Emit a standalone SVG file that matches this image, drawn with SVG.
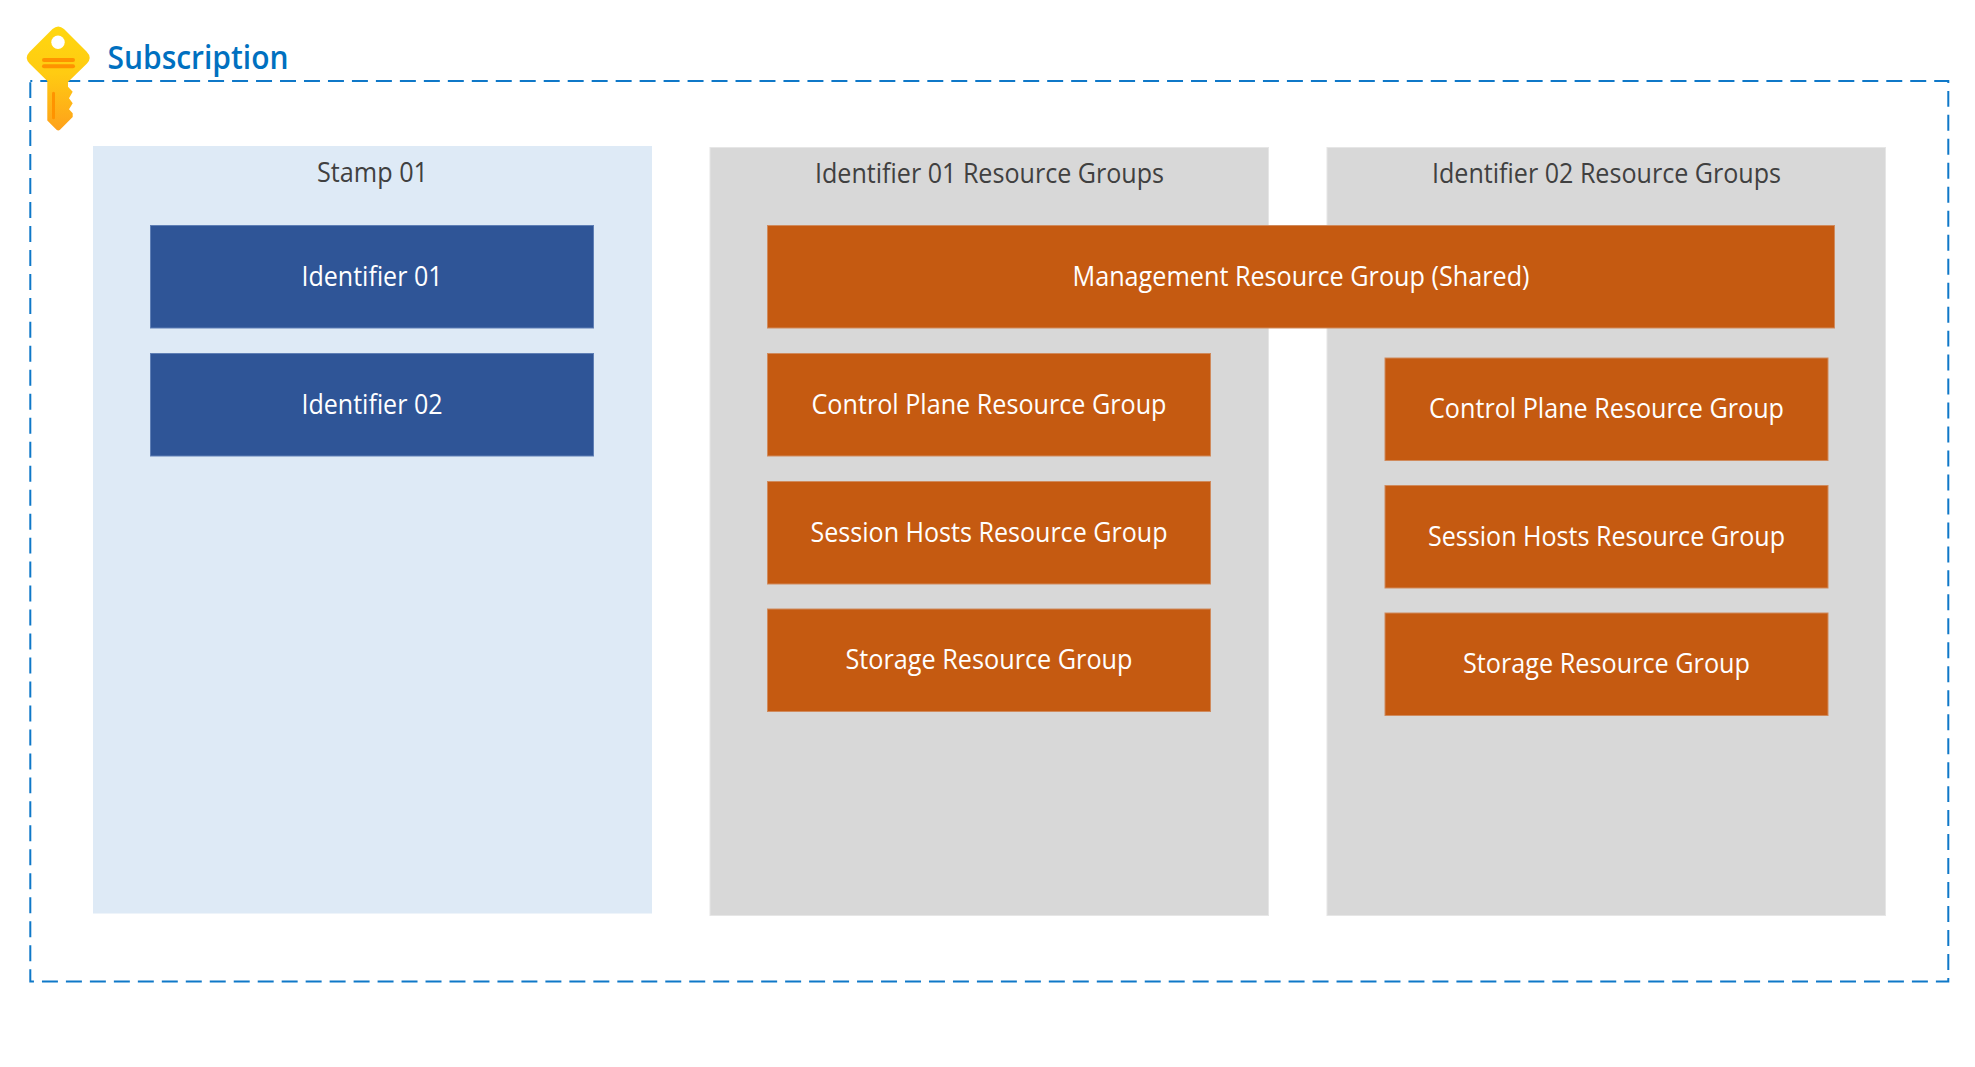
<svg xmlns="http://www.w3.org/2000/svg" width="1975" height="1067" viewBox="0 0 1975 1067">
<style>
text{font-family:"Open Sans","Noto Sans","Liberation Sans",sans-serif;font-size:27px;font-weight:400;text-anchor:middle}
.lb{fill:#404040}.w{fill:#fff}
.o{fill:#c55a11;stroke:#d08a5c;stroke-width:1}
.b{fill:#2f5597;stroke:#5f7fb5;stroke-width:1}
.g{fill:#d8d8d8;stroke:#e6e6e6;stroke-width:1}
</style>
<defs><linearGradient id="kg" x1="0" y1="0" x2="0" y2="1"><stop offset="0" stop-color="#ffd70f"/><stop offset="0.45" stop-color="#ffcb12"/><stop offset="1" stop-color="#fea11b"/></linearGradient></defs>
<rect width="1975" height="1067" fill="#fff"/>
<path id="subscription-frame" d="M30.300 81H1948.300V981.500H30.300Z" fill="none" stroke="#0f78c8" stroke-width="2" stroke-dasharray="15.980 7.994" stroke-dashoffset="14"/>
<g id="key">
<path d="M52.500 29Q58.300 24 64 29L86.500 51.500Q92.500 57.500 87 63.500L68 82V86.700L72.700 91.700L69 98.300L72.700 103.300L69 109.300L72.700 113.300V117L60 129.700Q58.300 131.300 56.500 129.700L47.300 120.500V81L29.500 63.500Q24 57.700 29.500 52Z" fill="url(#kg)"/>
<circle cx="58" cy="42.300" r="6.700" fill="#fff"/>
<rect x="42" y="58" width="33" height="4" rx="2" fill="#ff9300"/>
<rect x="42" y="64.300" width="33" height="4" rx="2" fill="#ff9300"/>
<rect x="52" y="91.700" width="3" height="27.600" rx="1.500" fill="#ff9300"/>
</g>
<text id="subscription-label" x="198" y="69" style="font-size:33px;font-weight:600;fill:#0070c0" textLength="181" lengthAdjust="spacingAndGlyphs">Subscription</text>
<g id="stamp"><rect x="93" y="146" width="559" height="767.500" fill="#deeaf6"/><text class="lb" x="372.500" y="181.500" textLength="111" lengthAdjust="spacingAndGlyphs">Stamp 01</text></g>
<g id="group1"><rect class="g" x="710" y="147.500" width="558.500" height="768"/><text class="lb" x="989.500" y="182.500" textLength="349" lengthAdjust="spacingAndGlyphs">Identifier 01 Resource Groups</text></g>
<g id="group2"><rect class="g" x="1327" y="147.500" width="558.500" height="768"/><text class="lb" x="1606.500" y="182.500" textLength="349" lengthAdjust="spacingAndGlyphs">Identifier 02 Resource Groups</text></g>
<g id="id01"><rect class="b" x="150.500" y="225.500" width="443" height="102.500"/><text class="w" x="372" y="285.500" textLength="141" lengthAdjust="spacingAndGlyphs">Identifier 01</text></g>
<g id="id02"><rect class="b" x="150.500" y="353.500" width="443" height="102.500"/><text class="w" x="372" y="413.500" textLength="141" lengthAdjust="spacingAndGlyphs">Identifier 02</text></g>
<g id="mgmt"><rect class="o" x="767.500" y="225.500" width="1067" height="102.500"/><text class="w" x="1301" y="285.500" textLength="457" lengthAdjust="spacingAndGlyphs">Management Resource Group (Shared)</text></g>
<g id="cp1"><rect class="o" x="767.500" y="353.500" width="443" height="102.500"/><text class="w" x="989" y="413.500" textLength="355" lengthAdjust="spacingAndGlyphs">Control Plane Resource Group</text></g>
<g id="sh1"><rect class="o" x="767.500" y="481.500" width="443" height="102.500"/><text class="w" x="989" y="541.500" textLength="357" lengthAdjust="spacingAndGlyphs">Session Hosts Resource Group</text></g>
<g id="st1"><rect class="o" x="767.500" y="609" width="443" height="102.500"/><text class="w" x="989" y="668.500" textLength="287" lengthAdjust="spacingAndGlyphs">Storage Resource Group</text></g>
<g id="cp2"><rect class="o" x="1385" y="358" width="443" height="102.500"/><text class="w" x="1606.500" y="417.500" textLength="355" lengthAdjust="spacingAndGlyphs">Control Plane Resource Group</text></g>
<g id="sh2"><rect class="o" x="1385" y="485.500" width="443" height="102.500"/><text class="w" x="1606.500" y="545.500" textLength="357" lengthAdjust="spacingAndGlyphs">Session Hosts Resource Group</text></g>
<g id="st2"><rect class="o" x="1385" y="613" width="443" height="102.500"/><text class="w" x="1606.500" y="672.500" textLength="287" lengthAdjust="spacingAndGlyphs">Storage Resource Group</text></g>
<g id="connectors"/>
</svg>
